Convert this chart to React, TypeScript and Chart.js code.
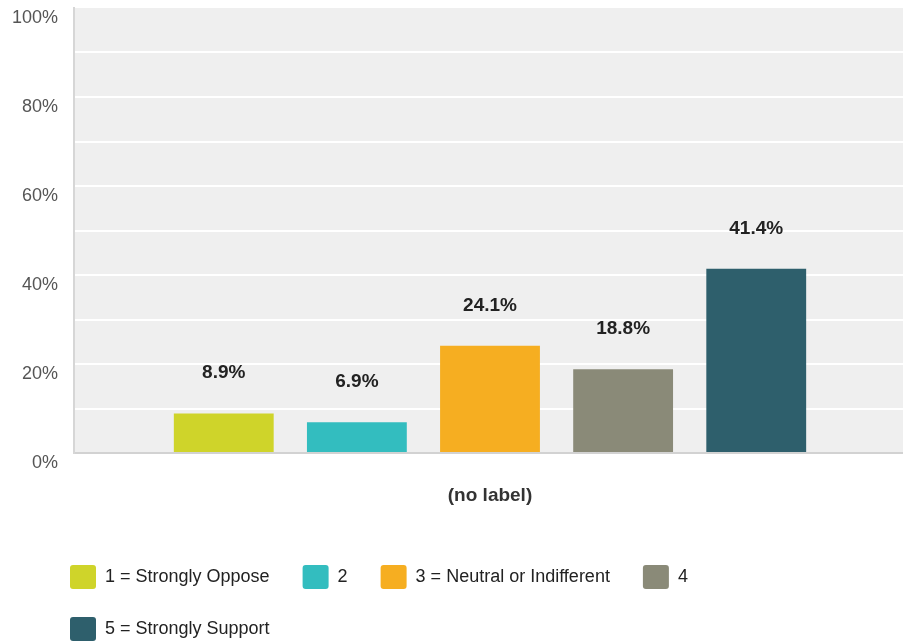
import React, { useEffect, useRef } from 'react';
import { Chart, registerables } from 'chart.js';

Chart.register(...registerables);

const categories = ['(no label)'];
const seriesLabels = ['1 = Strongly Oppose', '2', '3 = Neutral or Indifferent', '4', '5 = Strongly Support'];
const seriesValues = [8.9, 6.9, 24.1, 18.8, 41.4];
const seriesColors = ['#cfd42a', '#33bdbf', '#f6ae21', '#8a8a78', '#2e5f6c'];
const yTickLabels = [0, 20, 40, 60, 80, 100];

const FONT = '"Liberation Sans", Arial, sans-serif';

const plotBackground = {
  id: 'plotBackground',
  beforeDraw(chart: any) {
    const { ctx, chartArea } = chart;
    if (!chartArea) return;
    ctx.save();
    ctx.fillStyle = '#efefef';
    ctx.fillRect(chartArea.left, chartArea.top, chartArea.right - chartArea.left, chartArea.bottom - chartArea.top);
    ctx.restore();
  },
};

const valueLabels = {
  id: 'valueLabels',
  afterDatasetsDraw(chart: any) {
    const { ctx } = chart;
    ctx.save();
    ctx.font = `bold 19px ${FONT}`;
    ctx.fillStyle = '#222222';
    ctx.textAlign = 'center';
    ctx.textBaseline = 'alphabetic';
    chart.data.datasets.forEach((ds: any, i: number) => {
      const meta = chart.getDatasetMeta(i);
      meta.data.forEach((bar: any, j: number) => {
        const v = ds.data[j];
        ctx.fillText(`${v.toFixed(1)}%`, bar.x, bar.y - 35);
      });
    });
    ctx.restore();
  },
};

// Legend drawn below the chart, left aligned, wrapping into rows.
const bottomLegend = {
  id: 'bottomLegend',
  afterDraw(chart: any) {
    const { ctx } = chart;
    const startX = 70;
    const firstTop = 565;
    const rowStep = 52;
    const boxW = 26;
    const boxH = 24;
    const textGap = 9;
    const itemGap = 33;
    const maxRight = 870;
    ctx.save();
    ctx.font = `18px ${FONT}`;
    ctx.textAlign = 'left';
    ctx.textBaseline = 'alphabetic';
    let x = startX;
    let top = firstTop;
    chart.data.datasets.forEach((ds: any, i: number) => {
      const tw = ctx.measureText(ds.label).width;
      const w = boxW + textGap + tw;
      if (i > 0 && x + w > maxRight) {
        x = startX;
        top += rowStep;
      }
      ctx.fillStyle = ds.backgroundColor;
      ctx.beginPath();
      if ((ctx as any).roundRect) (ctx as any).roundRect(x, top, boxW, boxH, 3);
      else ctx.rect(x, top, boxW, boxH);
      ctx.fill();
      ctx.fillStyle = '#222222';
      ctx.fillText(ds.label, x + boxW + textGap, top + 17);
      x += w + itemGap;
    });
    ctx.restore();
  },
};

export default function App() {
  const canvasRef = useRef<HTMLCanvasElement | null>(null);

  useEffect(() => {
    if (!canvasRef.current) return;
    const chart = new Chart(canvasRef.current, {
      type: 'bar',
      data: {
        labels: categories,
        datasets: seriesLabels.map((label, i) => ({
          label,
          data: [seriesValues[i]],
          backgroundColor: seriesColors[i],
          borderWidth: 0,
          borderColor: seriesColors[i],
        })),
      },
      options: {
        animation: false,
        responsive: true,
        maintainAspectRatio: false,
        layout: { padding: { top: 8, left: 0, right: 0, bottom: 105 } },
        datasets: { bar: { categoryPercentage: 0.8, barPercentage: 0.75 } },
        plugins: {
          tooltip: { enabled: false },
          legend: { display: false },
        },
        scales: {
          x: {
            grid: { display: false },
            border: { display: true, color: '#d2d2d2', width: 2 },
            ticks: {
              padding: 23,
              color: '#333333',
              font: { family: FONT, size: 19, weight: 'bold' },
            },
            afterFit(scale: any) {
              scale.height = 84;
              scale.paddingLeft = 0;
              scale.paddingRight = 0;
            },
          },
          y: {
            min: 0,
            max: 100,
            ticks: {
              stepSize: 10,
              padding: 16,
              labelOffset: 10,
              color: '#555555',
              font: { family: FONT, size: 18 },
              callback: (v: any) => (yTickLabels.includes(Number(v)) ? `${v}%` : ''),
            },
            grid: {
              drawTicks: false,
              lineWidth: 2,
              color: (ctx: any) => {
                const v = ctx.tick ? ctx.tick.value : null;
                return v === 0 || v === 100 ? 'rgba(0,0,0,0)' : '#ffffff';
              },
            },
            border: { display: true, color: '#d6d6d6', width: 2 },
            afterFit(scale: any) {
              scale.width = 74;
              scale.paddingTop = 0;
              scale.paddingBottom = 0;
            },
          },
        },
      },
      plugins: [plotBackground, valueLabels, bottomLegend],
    } as any);
    return () => chart.destroy();
  }, []);

  return (
    <div style={{ position: 'fixed', left: 0, top: 0, width: 906, height: 642, background: '#ffffff' }}>
      <canvas ref={canvasRef} />
    </div>
  );
}
